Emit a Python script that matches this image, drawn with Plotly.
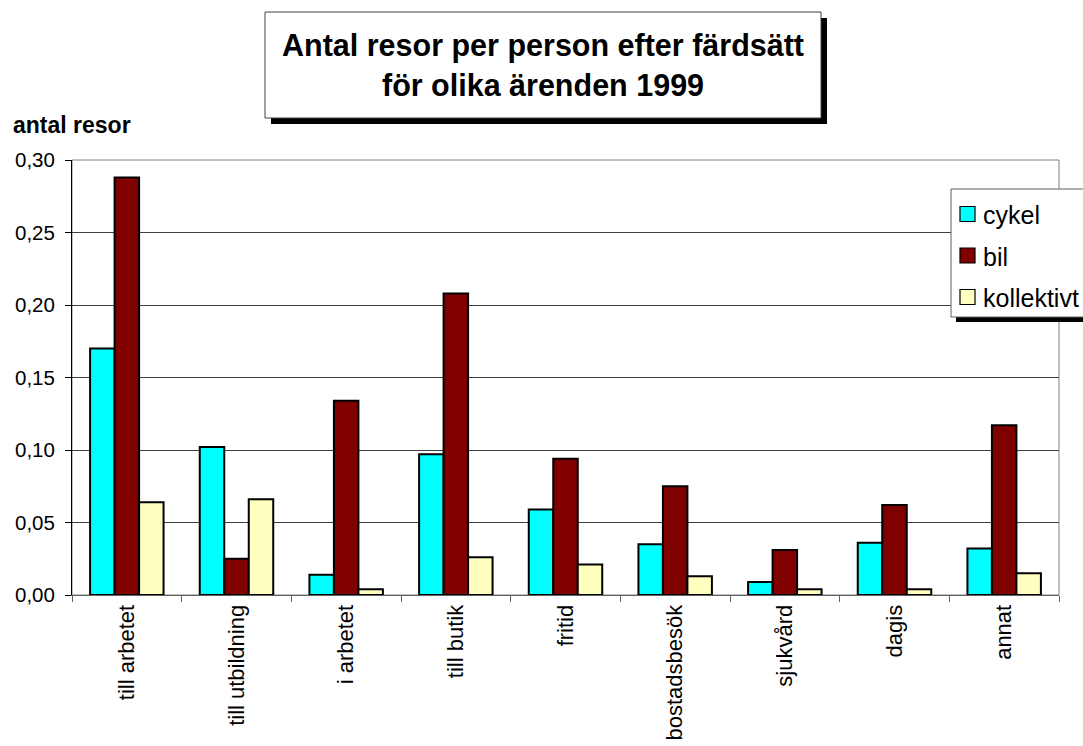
import plotly.graph_objects as go

# Trip purposes (x categories)
categories = ["till arbetet", "till utbildning", "i arbetet", "till butik", "fritid",
              "bostadsbesök", "sjukvård", "dagis", "annat"]

# Trips per person by mode of transport
cykel = [0.170, 0.102, 0.014, 0.097, 0.059, 0.035, 0.009, 0.036, 0.032]
bil = [0.288, 0.025, 0.134, 0.208, 0.094, 0.075, 0.031, 0.062, 0.117]
kollektivt = [0.064, 0.066, 0.004, 0.026, 0.021, 0.013, 0.004, 0.004, 0.015]

series_names = ["cykel", "bil", "kollektivt"]
series_colors = ["#00FFFF", "#800000", "#FFFFC0"]

y_tick_values = [0.0, 0.05, 0.10, 0.15, 0.20, 0.25, 0.30]
y_tick_labels = ["0,00", "0,05", "0,10", "0,15", "0,20", "0,25", "0,30"]

title_lines = ["Antal resor per person efter färdsätt", "för olika ärenden 1999"]
y_title = "antal resor"

FONT = "Liberation Sans, Arial, sans-serif"
W, H = 1083, 746
ML, MR, MT, MB = 72, 24, 160, 151
PW, PH = W - ML - MR, H - MT - MB


def px(x):
    return (x - ML) / PW


def py(y):
    return (H - MB - y) / PH


fig = go.Figure()
for name, vals, col in zip(series_names, [cykel, bil, kollektivt], series_colors):
    fig.add_trace(go.Bar(
        x=categories, y=vals, name=name,
        marker=dict(color=col, line=dict(color="black", width=2)),
    ))

shapes = []
# plot-area frame
shapes.append(dict(type="rect", xref="paper", yref="paper", x0=0, x1=1, y0=0, y1=1,
                   line=dict(color="#808080", width=1), layer="below"))

# title box with drop shadow
tb = dict(x0=265, x1=821, y0=12, y1=118)
sh = 6
shapes.append(dict(type="rect", xref="paper", yref="paper",
                   x0=px(tb["x0"] + sh), x1=px(tb["x1"] + sh),
                   y0=py(tb["y1"] + sh), y1=py(tb["y0"] + sh),
                   fillcolor="black", line=dict(width=0), layer="above"))
shapes.append(dict(type="rect", xref="paper", yref="paper",
                   x0=px(tb["x0"]), x1=px(tb["x1"]),
                   y0=py(tb["y1"]), y1=py(tb["y0"]),
                   fillcolor="white", line=dict(color="#404040", width=1), layer="above"))

# legend box with drop shadow
lb = dict(x0=951, x1=1100, y0=189, y1=317)
lsh = 5
shapes.append(dict(type="rect", xref="paper", yref="paper",
                   x0=px(lb["x0"] + lsh), x1=px(lb["x1"] + lsh),
                   y0=py(lb["y1"] + lsh), y1=py(lb["y0"] + lsh),
                   fillcolor="black", line=dict(width=0), layer="above"))
shapes.append(dict(type="rect", xref="paper", yref="paper",
                   x0=px(lb["x0"]), x1=px(lb["x1"]),
                   y0=py(lb["y1"]), y1=py(lb["y0"]),
                   fillcolor="white", line=dict(color="#606060", width=1), layer="above"))

annotations = []
item_centers = [214, 255.5, 297]
for name, col, cy in zip(series_names, series_colors, item_centers):
    shapes.append(dict(type="rect", xref="paper", yref="paper",
                       x0=px(960), x1=px(975), y0=py(cy + 7.5), y1=py(cy - 7.5),
                       fillcolor=col, line=dict(color="black", width=1.2), layer="above"))
    annotations.append(dict(xref="paper", yref="paper", x=px(981), y=py(cy + 1),
                            text=name, showarrow=False, xanchor="left", yanchor="middle",
                            font=dict(family=FONT, size=25, color="black")))

annotations.append(dict(xref="paper", yref="paper", x=px((tb["x0"] + tb["x1"]) / 2),
                        y=py((tb["y0"] + tb["y1"]) / 2),
                        text="<br>".join(title_lines), showarrow=False,
                        xanchor="center", yanchor="middle", align="center",
                        font=dict(family=FONT, size=30.5, color="black", weight="bold")))

annotations.append(dict(xref="paper", yref="paper", x=px(11), y=py(125),
                        text=y_title, showarrow=False, xanchor="left", yanchor="middle",
                        font=dict(family=FONT, size=23, color="black", weight="bold")))

fig.update_layout(
    width=W, height=H,
    margin=dict(l=ML, r=MR, t=MT, b=MB, pad=0, autoexpand=False),
    paper_bgcolor="white", plot_bgcolor="white",
    barmode="group", bargap=0.33, bargroupgap=0,
    showlegend=False,
    shapes=shapes, annotations=annotations,
    font=dict(family=FONT, color="black"),
    xaxis=dict(
        type="category", showgrid=False, automargin=False,
        showline=True, linecolor="#606060", linewidth=1,
        ticks="outside", tickson="boundaries", ticklen=6, tickcolor="#606060",
        tickangle=-90, tickfont=dict(family=FONT, size=22, color="black"),
    ),
    yaxis=dict(
        range=[0, 0.30], tickvals=y_tick_values, ticktext=y_tick_labels,
        automargin=False,
        showgrid=True, gridcolor="#404040", gridwidth=1,
        showline=True, linecolor="black", linewidth=1, zeroline=False,
        ticks="outside", ticklen=6, tickcolor="black", ticklabelstandoff=6,
        tickfont=dict(family=FONT, size=20.5, color="black"),
    ),
)

fig.write_html("out.html")
